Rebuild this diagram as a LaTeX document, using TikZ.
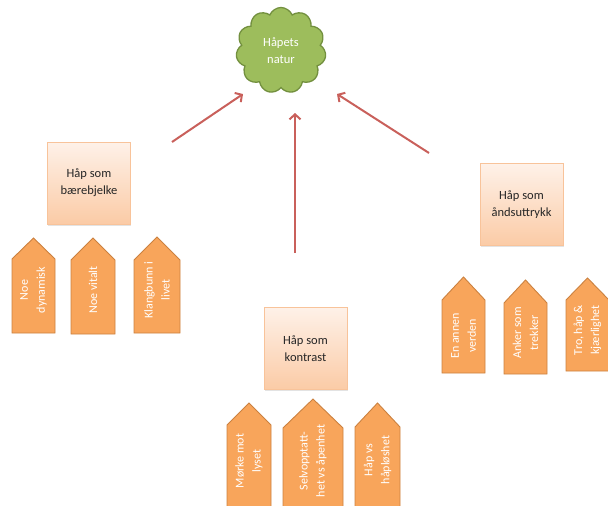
\documentclass[tikz,border=0pt]{standalone}
\usepackage{fontspec}
\setmainfont{Carlito}
\usetikzlibrary{shapes.symbols,arrows.meta,shadows}

\definecolor{cloudfill}{HTML}{9DBD5C}
\definecolor{cloudedge}{HTML}{73903F}
\definecolor{boxtop}{HTML}{FEF1E8}
\definecolor{boxbot}{HTML}{FBCBA6}
\definecolor{boxedge}{HTML}{F8C39A}
\definecolor{tagfill}{HTML}{F8A55B}
\definecolor{tagedge}{HTML}{CB8140}
\definecolor{linkred}{HTML}{C9605B}

\tikzset{
  topic/.style={rectangle, draw=boxedge, line width=0.7pt,
    top color=boxtop, bottom color=boxbot, align=center,
    minimum width=83pt, minimum height=82pt, inner sep=2pt,
    text=black!85, font=\fontsize{12.5}{17}\selectfont,
    drop shadow={opacity=0.22, shadow xshift=0.8pt, shadow yshift=-1.8pt}},
  tagbody/.style={fill=tagfill, draw=tagedge, line width=0.9pt, line join=miter},
  tagtext/.style={text=white, rotate=90, align=center, inner sep=0pt,
    font=\fontsize{12}{17}\selectfont},
  link/.style={draw=linkred, line width=2pt,
    -{Straight Barb[length=5pt,width=11pt,line width=2pt]}},
}

% pentagon tag: name, left x, right x, tip y, shoulder y, bottom y, text y, text
\newcommand\hopetag[8]{%
  \path[tagbody] (#2,#6) -- (#2,#5) -- ({(#2+#3)/2},#4) -- (#3,#5) -- (#3,#6) -- cycle;
  \node[tagtext] (#1) at ({(#2+#3)/2},#7) {#8};}

\begin{document}
\begin{tikzpicture}[x=1pt,y=-1pt]
\useasboundingbox (0,0) rectangle (608,506);

% central cloud
\node[cloud, cloud puffs=11, cloud puff arc=135, aspect=1.05,
  draw=cloudedge, fill=cloudfill, line width=1.3pt,
  minimum width=90pt, minimum height=86pt, inner sep=0pt,
  text=white, align=center, font=\fontsize{12.5}{17}\selectfont]
  (nature) at (281,50.5) {Håpets\\natur};

% three themes
\node[topic] (pillar) at (89,183) {Håp som\\bærebjelke};
\node[topic] (spirit) at (521.5,204.5) {Håp som\\åndsuttrykk};
\node[topic] (contrast) at (305.5,348.5) {Håp som\\kontrast};

% connectors towards the cloud
\coordinate (pillarout) at (172,142);
\coordinate (pillarin) at (243,94);
\coordinate (contrastout) at (295,253);
\coordinate (contrastin) at (295,113);
\coordinate (spiritout) at (429,153);
\coordinate (spiritin) at (337,94);
\draw[link] (pillarout) -- (pillarin);
\draw[link] (contrastout) -- (contrastin);
\draw[link] (spiritout) -- (spiritin);

% tags under "bærebjelke"
\hopetag{dyn}{12}{55}{238}{259}{333}{290}{Noe\\dynamisk}
\hopetag{vital}{71}{115}{238}{260}{334}{290}{Noe vitalt}
\hopetag{klang}{134}{180}{237}{260}{333}{290}{Klangbunn i\\livet}

% tags under "åndsuttrykk"
\hopetag{world}{442}{485}{277}{300}{373}{336}{En annen\\verden}
\hopetag{anchor}{504}{547}{280}{303}{374}{333}{Anker som\\trekker}
\hopetag{faith}{566}{609}{278}{300}{371}{330}{Tro, håp \&\\kjærlighet}

% tags under "kontrast"
\hopetag{dark}{227}{271}{403}{425}{520}{461}{Mørke mot\\lyset}
\hopetag{self}{283}{343}{399}{428}{520}{461}{Selvopptatt-\\het vs åpenhet}
\hopetag{despair}{355}{400}{403}{427}{520}{460}{Håp vs\\håpløshet}
\end{tikzpicture}
\end{document}
